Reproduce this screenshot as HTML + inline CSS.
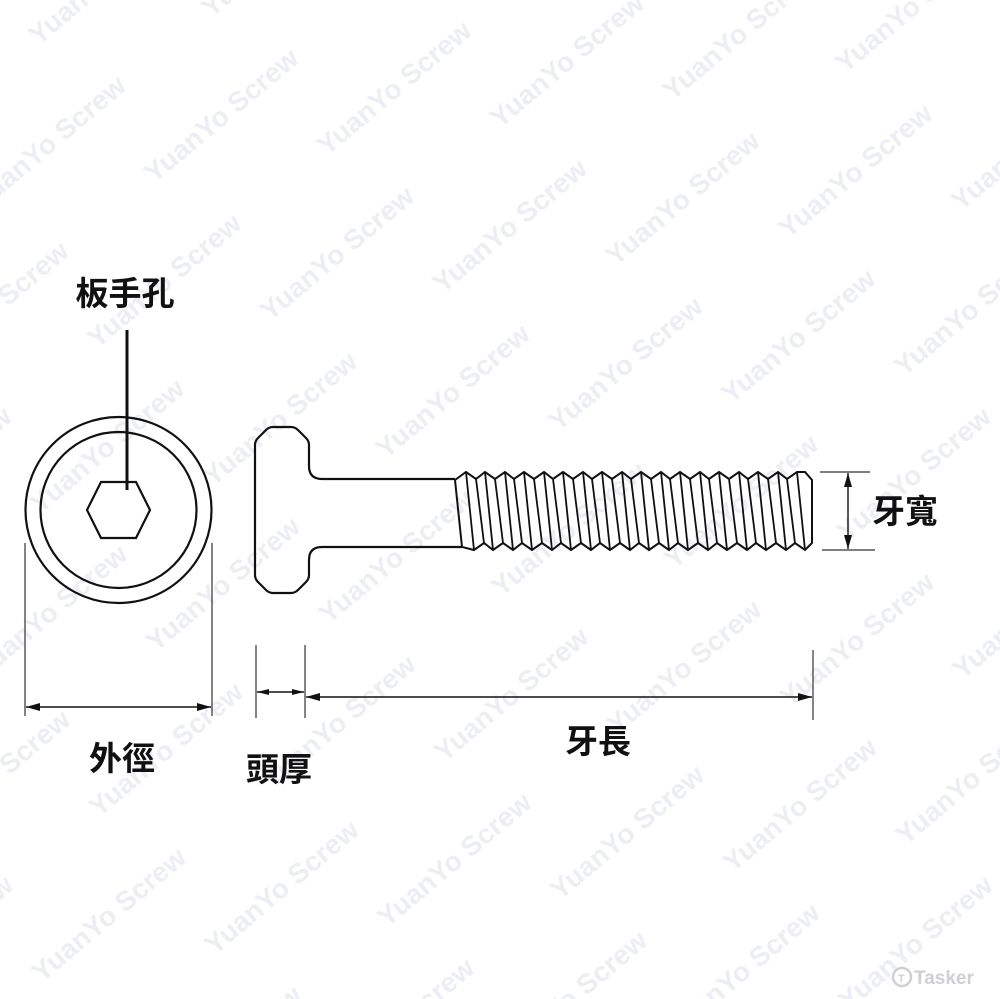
<!DOCTYPE html>
<html><head><meta charset="utf-8"><style>
html,body{margin:0;padding:0;background:#fff;overflow:hidden;width:1000px;height:999px;}
svg{display:block;}
.wm{font-family:"Liberation Sans",sans-serif;font-weight:bold;font-size:28px;fill:#eceef4;}
.lb{font-family:"Liberation Sans","Noto Sans CJK TC",sans-serif;font-weight:bold;font-size:33px;fill:#111;}
</style></head><body>
<svg width="1000" height="999" viewBox="0 0 1000 999" xmlns="http://www.w3.org/2000/svg">
<defs>
<marker id="ar" viewBox="0 0 14 8" refX="14" refY="4" markerWidth="14" markerHeight="8" markerUnits="userSpaceOnUse" orient="auto-start-reverse"><path d="M0 0L14 4L0 8z" fill="#111"/></marker>
<marker id="as" viewBox="0 0 12 6" refX="12" refY="3" markerWidth="12" markerHeight="6" markerUnits="userSpaceOnUse" orient="auto-start-reverse"><path d="M0 0L12 3L0 6z" fill="#111"/></marker>
<pattern id="wmp" patternUnits="userSpaceOnUse" width="300" height="180" patternTransform="rotate(-40)">
<text class="wm" x="0" y="60">YuanYo Screw</text>
<text class="wm" x="150" y="150">YuanYo Screw</text>
<text class="wm" x="-150" y="150">YuanYo Screw</text>
</pattern>
</defs>
<rect width="1000" height="999" fill="url(#wmp)"/>

<g fill="none" stroke="#111" stroke-width="2.2">
<circle cx="118.5" cy="510" r="93"/>
<circle cx="118.5" cy="510" r="78"/>
<polygon points="101,482 136,482 150,510 136,538 101,538 87,510"/>
<path d="M322 479 L455 479 M322 547 L462 547 M322 479 Q309 479 309 466 L309 445 Q309 441 306 438 L298 430 Q295 427 291 427 L273 427 Q269 427 266 430 L258 438 Q255 441 255 445 L255 575 Q255 579 258 582 L266 590 Q269 593 273 593 L291 593 Q295 593 298 590 L306 582 Q309 579 309 575 L309 560 Q309 547 322 547"/>
<polyline stroke-width="2" points="455,480 466,472 476,479 485,472 495,479 505,472 514,479 524,472 534,479 544,472 553,479 563,472 573,479 583,472 592,479 602,472 612,479 622,472 631,479 641,472 651,479 661,472 670,479 680,472 690,479 700,472 709,479 719,472 729,479 739,472 748,479 758,472 768,479 778,472 787,479 797,472 805,472 812,480 812,543 805,550 795,543 786,550 776,543 766,550 756,543 747,550 737,543 727,550 717,543 708,550 698,543 688,550 678,543 669,550 659,543 649,550 639,543 630,550 620,543 610,550 600,543 591,550 581,543 571,550 561,543 552,550 542,543 532,550 522,543 513,550 503,543 493,550 484,543 474,550 462,547 455,480"/>
<path stroke-width="1.8" d="M466 472L474 550M485 472L493 550M505 472L513 550M524 472L532 550M544 472L552 550M563 472L571 550M583 472L591 550M602 472L610 550M622 472L630 550M641 472L649 550M661 472L669 550M680 472L688 550M700 472L708 550M719 472L727 550M739 472L747 550M758 472L766 550M778 472L786 550M797 472L805 550
M476 479L484 543M495 479L503 543M514 479L522 543M534 479L542 543M553 479L561 543M573 479L581 543M592 479L600 543M612 479L620 543M631 479L639 543M651 479L659 543M670 479L678 543M690 479L698 543M709 479L717 543M729 479L737 543M748 479L756 543M768 479L776 543M787 479L795 543"/>
</g>
<line x1="127" y1="330" x2="127" y2="490" stroke="#111" stroke-width="3"/>
<g stroke="#333" stroke-width="1.2" fill="none">
<line x1="25" y1="543" x2="25" y2="716"/><line x1="212" y1="543" x2="212" y2="716"/>
<line x1="256" y1="645" x2="256" y2="718"/><line x1="305" y1="645" x2="305" y2="718"/>
<line x1="813" y1="650" x2="813" y2="720"/>
<line x1="820" y1="472" x2="870" y2="472"/><line x1="822" y1="550" x2="875" y2="550"/>
</g>
<g stroke="#111" stroke-width="1.4">
<line x1="26" y1="707" x2="211" y2="707" marker-start="url(#ar)" marker-end="url(#ar)"/>
<line x1="257" y1="692" x2="304" y2="692" marker-start="url(#as)" marker-end="url(#as)"/>
<line x1="306" y1="697" x2="812" y2="697" marker-start="url(#ar)" marker-end="url(#ar)"/>
<line x1="848" y1="473" x2="848" y2="549" marker-start="url(#ar)" marker-end="url(#ar)"/>
</g>
<text class="lb" x="125" y="305" text-anchor="middle">板手孔</text>
<text class="lb" x="122" y="770" text-anchor="middle">外徑</text>
<text class="lb" x="279" y="781" text-anchor="middle">頭厚</text>
<text class="lb" x="598" y="753" text-anchor="middle">牙長</text>
<text class="lb" x="905" y="523" text-anchor="middle">牙寬</text>
<g fill="#cfd0d3">
<circle cx="902" cy="977" r="9" fill="none" stroke="#cfd0d3" stroke-width="2.5"/>
<text x="898" y="982" font-family="Liberation Sans" font-weight="bold" font-size="11">T</text>
<text x="914" y="984" font-family="Liberation Sans,sans-serif" font-weight="bold" font-size="19">Tasker</text>
</g>
</svg>
</body></html>
